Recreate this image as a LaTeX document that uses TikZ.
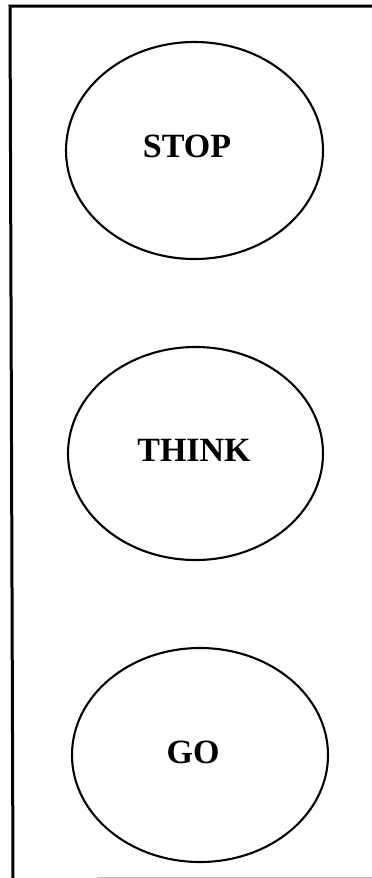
\documentclass[tikz,border=0pt]{standalone}
\usepackage{fontspec}
\setmainfont{Liberation Serif}
\usetikzlibrary{shapes.geometric}

\begin{document}
\begin{tikzpicture}[
  x=1pt, y=-1pt,
  lbl/.style={font=\fontsize{34}{36}\selectfont\bfseries, inner sep=0pt},
  oval/.style={ellipse, draw=black, line width=2.1pt, inner sep=0pt},
  frameedge/.style={draw=black, line width=3pt},
  faintedge/.style={draw=black!25, line width=1pt}
]
\useasboundingbox (0,0) rectangle (372,878);

% frame
\coordinate (tl) at (10,6);
\coordinate (tr) at (372,6);
\coordinate (bl) at (13,878);
\coordinate (fb1) at (97,877);
\coordinate (fb2) at (372,877);
\draw[frameedge] (tr) -- (tl) -- (bl);
\draw[faintedge] (fb1) -- (fb2);

% ovals
\node[oval, minimum width=257pt, minimum height=217pt] (stop) at (194.5,150.5) {};
\node[oval, minimum width=255pt, minimum height=213pt] (think) at (195.5,453.5) {};
\node[oval, minimum width=256pt, minimum height=214pt] (go) at (200,755) {};
\node[lbl] (lstop) at (187,146) {STOP};
\node[lbl] (lthink) at (194,450) {THINK};
\node[lbl] (lgo) at (193,752) {GO};

\end{tikzpicture}
\end{document}
